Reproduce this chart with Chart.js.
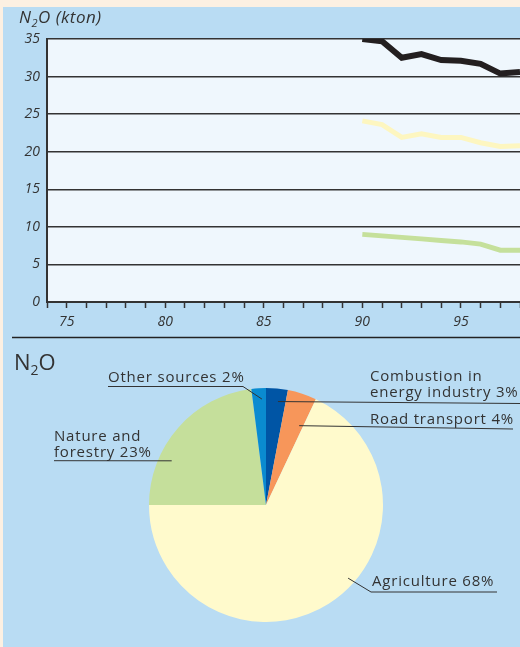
<!DOCTYPE html>
<html><head><meta charset="utf-8">
<script src="https://cdn.jsdelivr.net/npm/chart.js@4"></script>
<style>
html,body{margin:0;padding:0;}
body{width:520px;height:647px;background:#fcf0e2;position:relative;overflow:hidden;}
#panel{position:absolute;left:3px;top:7px;width:517px;height:640px;background:#b9dcf3;}
#top{position:absolute;left:0;top:0;}
#pie{position:absolute;left:0;top:340px;}
</style></head><body>
<div id="panel"></div>
<canvas id="top" width="520" height="340"></canvas>
<canvas id="pie" width="520" height="307"></canvas>
<script>
// ---- data ----
const years = [90, 91, 92, 93, 94, 95, 96, 97, 98];
const totalEmissions = [35.0, 34.7, 32.5, 33.0, 32.2, 32.1, 31.7, 30.4, 30.6];
const agricultureEmissions = [24.1, 23.6, 21.9, 22.4, 21.9, 21.9, 21.2, 20.7, 20.8];
const natureEmissions = [9.0, 8.8, 8.6, 8.4, 8.2, 8.0, 7.7, 6.9, 6.9];
const yTickValues = [0, 5, 10, 15, 20, 25, 30, 35];
const xTickLabels = [75, 80, 85, 90, 95];
const sources = ['Combustion in energy industry', 'Road transport', 'Agriculture', 'Nature and forestry', 'Other sources'];
const shares = [3, 4, 68, 23, 2];

// ---- styling ----
const FONT = "'Open Sans', sans-serif";
const INK = '#333333';
Chart.defaults.font.family = FONT;

const plotBg = {
  id: 'plotBg',
  beforeDraw(chart) {
    const {ctx, chartArea: a} = chart;
    ctx.save();
    ctx.fillStyle = '#eff7fd';
    ctx.fillRect(a.left, a.top, a.right - a.left, a.bottom - a.top);
    ctx.restore();
  },
  afterDraw(chart) {
    const ctx = chart.ctx;
    ctx.save();
    ctx.fillStyle = INK;
    ctx.textBaseline = 'alphabetic';
    ctx.letterSpacing = '0.5px';
    ctx.font = `italic 17px ${FONT}`;
    let x = 19;
    ctx.fillText('N', x, 23);
    x += ctx.measureText('N').width;
    ctx.font = `italic 11px ${FONT}`;
    ctx.fillText('2', x, 27);
    x += ctx.measureText('2').width;
    ctx.font = `italic 17px ${FONT}`;
    ctx.fillText('O (kton)', x, 23);
    // separator
    ctx.strokeStyle = '#222';
    ctx.lineWidth = 1.5;
    ctx.beginPath();
    ctx.moveTo(12, 337.5);
    ctx.lineTo(520, 337.5);
    ctx.stroke();
    ctx.restore();
  }
};

const pts = arr => years.map((y, i) => ({x: y, y: arr[i]}));

new Chart(document.getElementById('top'), {
  type: 'line',
  data: {
    datasets: [
      {data: pts(totalEmissions), borderColor: '#231f20', borderWidth: 6},
      {data: pts(agricultureEmissions), borderColor: '#fdf6c0', borderWidth: 5},
      {data: pts(natureEmissions), borderColor: '#c5e09b', borderWidth: 5}
    ]
  },
  options: {
    responsive: false, animation: false, devicePixelRatio: 1,
    layout: {autoPadding: false, padding: {top: 39, left: 0, right: 0, bottom: 0}},
    plugins: {legend: {display: false}, tooltip: {enabled: false}},
    elements: {point: {radius: 0}, line: {tension: 0, borderCapStyle: 'butt', borderJoinStyle: 'miter'}},
    scales: {
      x: {
        type: 'linear', min: 74, max: 98,
        afterFit: s => { s.height = 38; s.paddingRight = 0; s.paddingLeft = 0; },
        ticks: {stepSize: 1, autoSkip: false, maxRotation: 0, padding: 6, color: INK,
          font: {size: 14, style: 'italic'},
          callback: v => xTickLabels.includes(v) ? String(v) : ''},
        grid: {drawOnChartArea: false, drawTicks: true, tickLength: 6, tickColor: INK, tickWidth: 1.5},
        border: {display: true, color: INK, width: 2}
      },
      y: {
        min: 0, max: 35,
        afterFit: s => { s.width = 47; },
        afterBuildTicks: s => { s.ticks = yTickValues.map(v => ({value: v})); },
        ticks: {padding: 7, color: INK, font: {size: 14, style: 'italic'}},
        grid: {color: INK, lineWidth: 1.5, drawTicks: false},
        border: {display: true, color: INK, width: 2}
      }
    }
  },
  plugins: [plotBg]
});

// ---- pie ----
const OY = 340;
// label layout (page coordinates); anchors given as angle from 12 o'clock (deg) and fraction of radius
const labelLayout = [
  {x: 370, base: [380.7, 396.7], breakAfter: 2, anchor: [6.6, 0.89], path: a => [a, [520, 403.5]]},
  {x: 370, base: [424], anchor: [22.7, 0.735], path: a => [a, [513, 429]]},
  {x: 372, base: [586], anchor: [131.7, 0.94], path: a => [a, [371, 592], [497, 592]]},
  {x: 54, base: [441, 457.3], breakAfter: 2, anchor: [295.1, 0.89], path: a => [[54, 460.7], a]},
  {x: 108, base: [381.7], anchor: [-2.2, 0.906], path: a => [[108, 386.5], [243, 386.5], a]}
];

const pieLabels = {
  id: 'pieLabels',
  afterDraw(chart) {
    const ctx = chart.ctx;
    const arc = chart.getDatasetMeta(0).data[0];
    const cx = arc.x, cy = arc.y, r = arc.outerRadius;
    ctx.save();
    ctx.fillStyle = INK;
    ctx.strokeStyle = INK;
    ctx.lineWidth = 1;
    // title
    ctx.font = `22px ${FONT}`;
    let x = 14;
    ctx.fillText('N', x, 370 - OY);
    x += ctx.measureText('N').width;
    ctx.font = `14px ${FONT}`;
    ctx.fillText('2', x, 375 - OY);
    x += ctx.measureText('2').width;
    ctx.font = `22px ${FONT}`;
    ctx.fillText('O', x, 370 - OY);

    ctx.font = `15px ${FONT}`;
    ctx.letterSpacing = '0.8px';
    sources.forEach((name, i) => {
      const L = labelLayout[i];
      const text = `${name} ${shares[i]}%`;
      let lines = [text];
      if (L.breakAfter) {
        const w = text.split(' ');
        lines = [w.slice(0, L.breakAfter).join(' '), w.slice(L.breakAfter).join(' ')];
      }
      lines.forEach((t, k) => ctx.fillText(t, L.x, L.base[k] - OY));
      const ang = L.anchor[0] * Math.PI / 180;
      const a = [cx + r * L.anchor[1] * Math.sin(ang), cy - r * L.anchor[1] * Math.cos(ang) + OY];
      const p = L.path(a);
      ctx.beginPath();
      p.forEach((q, k) => k ? ctx.lineTo(q[0], q[1] - OY) : ctx.moveTo(q[0], q[1] - OY));
      ctx.stroke();
    });
    ctx.restore();
  }
};

new Chart(document.getElementById('pie'), {
  type: 'pie',
  data: {
    labels: sources,
    datasets: [{data: shares, backgroundColor: ['#0055a5', '#f7965a', '#fffacc', '#c5df9b', '#0a8bd0'], borderWidth: 0}]
  },
  options: {
    responsive: false, animation: false, devicePixelRatio: 1,
    layout: {padding: {left: 149, right: 137, top: 48, bottom: 25}},
    plugins: {legend: {display: false}, tooltip: {enabled: false}}
  },
  plugins: [pieLabels]
});
</script>
</body></html>
